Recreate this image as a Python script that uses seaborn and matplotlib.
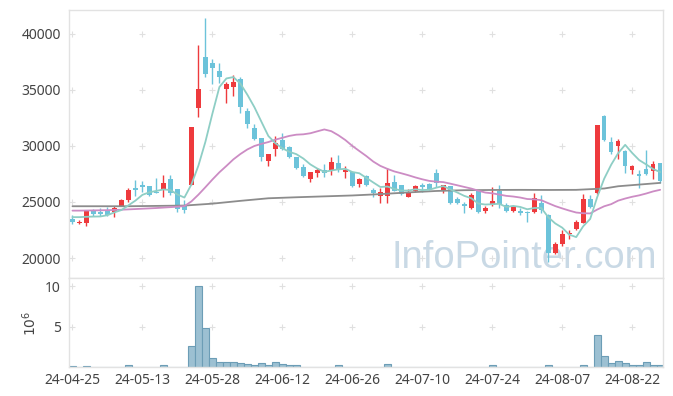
import numpy as np
import pandas as pd
import matplotlib
matplotlib.use("Agg")
import matplotlib.pyplot as plt
import seaborn as sns

# trading days shown (yy-mm-dd)
dates = [
    '24-04-25', '24-04-26', '24-04-29', '24-04-30',
    '24-05-02', '24-05-03', '24-05-07', '24-05-08', '24-05-09', '24-05-10', '24-05-13', '24-05-14',
    '24-05-16', '24-05-17', '24-05-20', '24-05-21', '24-05-22', '24-05-23', '24-05-24', '24-05-27',
    '24-05-28', '24-05-29', '24-05-30', '24-05-31',
    '24-06-03', '24-06-04', '24-06-05', '24-06-07', '24-06-10', '24-06-11', '24-06-12', '24-06-13',
    '24-06-14', '24-06-17', '24-06-18', '24-06-19', '24-06-20', '24-06-21', '24-06-24', '24-06-25',
    '24-06-26', '24-06-27', '24-06-28',
    '24-07-01', '24-07-02', '24-07-03', '24-07-04', '24-07-05', '24-07-08', '24-07-09', '24-07-10',
    '24-07-11', '24-07-12', '24-07-15', '24-07-16', '24-07-17', '24-07-18', '24-07-19', '24-07-22',
    '24-07-23', '24-07-24', '24-07-25', '24-07-26', '24-07-29', '24-07-30', '24-07-31',
    '24-08-01', '24-08-02', '24-08-05', '24-08-06', '24-08-07', '24-08-08', '24-08-09', '24-08-12',
    '24-08-13', '24-08-14', '24-08-16', '24-08-19', '24-08-20', '24-08-21', '24-08-22', '24-08-23',
    '24-08-26', '24-08-27', '24-08-28',
]

opens = [23470, 23150, 23140, 24180, 24090, 24180, 24090, 24650, 25160, 26280,
         26490, 26430, 25920, 26070, 27050, 26160, 24740, 26520, 33390, 37900,
         37360, 36650, 35020, 35250, 35940, 33100, 31580, 30670, 28680, 29740,
         30520, 29870, 29030, 28140, 27050, 27610, 27850, 27850, 28470, 27700,
         27700, 26580, 27320, 26070, 25570, 25570, 26760, 26490, 25480, 26010,
         26520, 26630, 27610, 26070, 26430, 25270, 24800, 24500, 25980, 24200,
         24710, 26010, 24740, 24230, 24200, 24100, 24140, 24890, 23850, 20450,
         21250, 22160, 22600, 23170, 25270, 25830, 32680, 30310, 30010, 29540,
         27850, 27450, 27910, 27790, 28450]
highs = [23820, 23400, 24200, 24380, 24450, 24560, 24600, 25300, 26280, 26930,
         26900, 26450, 27110, 27400, 27400, 26200, 25180, 31700, 39020, 41430,
         37780, 37340, 35700, 36300, 36150, 33340, 31910, 30690, 29300, 30870,
         31110, 30000, 29050, 28400, 27700, 28000, 28400, 28980, 29180, 28200,
         27700, 27100, 27400, 26260, 26250, 28000, 27400, 26500, 26130, 26550,
         26700, 26650, 27940, 26550, 26450, 25450, 25030, 25800, 26070, 24600,
         26310, 26520, 24900, 24650, 24450, 24200, 25780, 25630, 23900, 21400,
         22520, 22520, 23420, 25720, 25630, 31850, 32750, 30760, 30580, 29630,
         28300, 27850, 29630, 28650, 28500]
lows = [23020, 23000, 22850, 23730, 23730, 23730, 23700, 24600, 24990, 25510,
        25900, 25500, 25780, 25420, 25600, 24140, 24050, 26500, 32540, 36150,
        35470, 35560, 33830, 34450, 32890, 31610, 30490, 28680, 28200, 29100,
        29630, 28900, 27900, 27260, 26810, 27250, 27260, 27400, 27700, 27110,
        26360, 26310, 26430, 25450, 24890, 24940, 26010, 25600, 25420, 25930,
        25930, 26070, 26310, 25780, 24850, 24850, 24000, 24400, 24050, 24000,
        24650, 24450, 24150, 24150, 23800, 23250, 24000, 24000, 19650, 20400,
        21120, 21720, 22520, 23110, 24450, 25700, 30400, 29270, 28800, 27560,
        27490, 26220, 27400, 27020, 26670]
closes = [23230, 23250, 24180, 23950, 23940, 23800, 24500, 25220, 26045, 26045,
          26370, 25650, 25830, 26690, 25780, 24380, 24290, 31670, 35050, 36410,
          36920, 36140, 35500, 35670, 33480, 31970, 30630, 29030, 29270, 30280,
          29720, 29030, 28000, 27320, 27670, 27850, 27610, 28560, 27850, 27880,
          26450, 27050, 26520, 25780, 25870, 26670, 26000, 25750, 25800, 26430,
          26310, 26160, 26670, 26520, 24940, 24940, 24650, 25630, 24140, 24500,
          25090, 24830, 24230, 24590, 24050, 24050, 25390, 24290, 20450, 21270,
          22160, 22280, 23200, 25270, 24540, 31850, 30520, 29420, 30430, 28230,
          28230, 27350, 27490, 28360, 26900]
# volume in millions of shares
volumes = [0.12, 0.02, 0.12, 0.02, 0.02, 0.10, 0.10, 0.10, 0.25, 0.10,
           0.10, 0.10, 0.10, 0.25, 0.10, 0.10, 0.10, 2.65, 9.98, 4.88,
           1.16, 0.66, 0.66, 0.66, 0.54, 0.45, 0.35, 0.55, 0.35, 0.66,
           0.45, 0.25, 0.25, 0.10, 0.10, 0.10, 0.10, 0.10, 0.25, 0.10,
           0.10, 0.01, 0.01, 0.10, 0.10, 0.48, 0.10, 0.01, 0.01, 0.01,
           0.01, 0.01, 0.10, 0.01, 0.10, 0.01, 0.01, 0.01, 0.01, 0.01,
           0.25, 0.10, 0.01, 0.01, 0.01, 0.10, 0.10, 0.10, 0.25, 0.10,
           0.01, 0.01, 0.01, 0.25, 0.10, 4.00, 1.40, 0.54, 0.78, 0.54,
           0.25, 0.30, 0.66, 0.25, 0.25]

# moving-average values before enough closes are on screen
ma5_head = [23650, 23650, 23680, 23700]
ma20_head = [24230, 24230, 24240, 24250, 24260, 24270, 24290, 24310, 24340, 24370,
             24400, 24430, 24460, 24500, 24540, 24580, 24630, 25050, 25650]
ma60_idx = [0, 8, 16, 20, 24, 28, 32, 36, 40, 44, 48, 52, 56, 60, 64, 68, 72, 76, 78, 80, 84]
ma60_val = [24620, 24620, 24680, 24850, 25100, 25330, 25420, 25500, 25580, 25700, 25850,
            25980, 26050, 26070, 26080, 26070, 26080, 26200, 26400, 26500, 26700]

price_ticks = [20000, 25000, 30000, 35000, 40000]
vol_ticks = [5, 10]

RED = '#ee3a3d'
BLUE = '#6cc3da'

sns.set_theme(style='white')
plt.rcParams['font.family'] = ['Noto Sans', 'DejaVu Sans']

idx = np.arange(len(closes))
o = np.array(opens, dtype=float)
c = np.array(closes, dtype=float)
colors = np.where(c >= o, RED, BLUE)

close_s = pd.Series(c)
ma5 = close_s.rolling(5).mean()
ma5.iloc[:4] = ma5_head
ma20 = close_s.rolling(20).mean()
ma20.iloc[:19] = ma20_head
ma_df = pd.DataFrame({'idx': idx, 'ma5': ma5, 'ma20': ma20})
ma60_df = pd.DataFrame({'idx': ma60_idx, 'ma60': ma60_val})
vol_df = pd.DataFrame({'idx': idx, 'vol': volumes})

fig = plt.figure(figsize=(6.73, 3.96), dpi=100)
ax = fig.add_axes([0.103, 0.2972, 0.8826, 0.6775])
axv = fig.add_axes([0.103, 0.0722, 0.8826, 0.225])

# candles
ax.vlines(idx, lows, highs, colors=colors, linewidth=1.0, zorder=2)
body_low = np.minimum(o, c)
body_h = np.maximum(np.abs(c - o), 90)
ax.bar(idx, body_h, bottom=body_low, width=0.66, color=colors, linewidth=0, zorder=3)

# moving averages
sns.lineplot(data=ma60_df, x='idx', y='ma60', ax=ax, color='#8c8c8c', linewidth=1.3, zorder=4)
sns.lineplot(data=ma_df, x='idx', y='ma20', ax=ax, color='#cc8cc4', linewidth=1.3, zorder=4)
sns.lineplot(data=ma_df, x='idx', y='ma5', ax=ax, color='#8ecec5', linewidth=1.3, zorder=5)

# volume
sns.barplot(data=vol_df, x='idx', y='vol', ax=axv, color='#9cc0d2', saturation=1,
            edgecolor='#6c9db6', linewidth=0.8, width=1.0)

xlim = (-0.45, len(idx) - 0.55)
tick_pos = idx[::10]
for a in (ax, axv):
    a.set_xlim(*xlim)
    a.set_xlabel('')
    a.set_ylabel('')
    for s in a.spines.values():
        s.set_color('#e2e2e2')
        s.set_linewidth(1.0)
    a.tick_params(length=0, labelsize=10, colors='#444444')

ax.set_ylim(18200, 42100)
ax.set_yticks(price_ticks)
ax.set_xticks(tick_pos)
ax.tick_params(axis='x', labelbottom=False)
ax.tick_params(axis='y', pad=6)

axv.set_ylim(0, 10.95)
axv.set_yticks(vol_ticks)
axv.set_yticklabels([str(v) for v in vol_ticks])
axv.set_xticks(tick_pos)
axv.set_xticklabels([dates[i] for i in tick_pos])
axv.tick_params(axis='x', pad=4)
axv.tick_params(axis='y', pad=6)
axv.set_ylabel(r'$10^6$', fontsize=10, color='#444444', labelpad=4)

# grid drawn as small crosses at tick intersections
gx, gy = np.meshgrid(tick_pos, price_ticks)
ax.plot(gx.ravel(), gy.ravel(), '+', color='#e0e0e0', ms=5, mew=0.8, zorder=1)
vx, vy = np.meshgrid(tick_pos, vol_ticks)
axv.plot(vx.ravel(), vy.ravel(), '+', color='#e0e0e0', ms=5, mew=0.8, zorder=0)

ax.text(0.989, 0.038, 'InfoPointer.com', transform=ax.transAxes, ha='right', va='baseline',
        fontsize=27.5, color='#c9d9e5', family=['Liberation Sans Narrow', 'Liberation Sans'],
        zorder=0)

fig.savefig('out.png', dpi=100)
